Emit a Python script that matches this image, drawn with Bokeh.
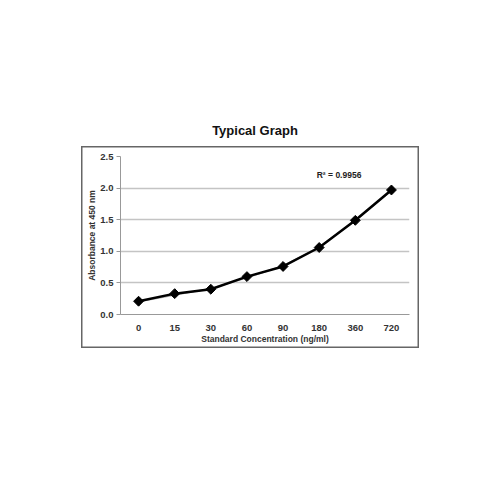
import math
from bokeh.plotting import figure
from bokeh.layouts import column, row
from bokeh.models import Label, FactorRange, Range1d, NumeralTickFormatter, FixedTicker, Div, Spacer
from bokeh.embed import file_html
from bokeh.resources import INLINE

categories = ["0", "15", "30", "60", "90", "180", "360", "720"]
absorbance = [0.21, 0.33, 0.40, 0.60, 0.76, 1.06, 1.49, 1.97]
trend = [0.20, 0.31, 0.41, 0.58, 0.77, 1.07, 1.48, 1.96]
y_ticks = [0.0, 0.5, 1.0, 1.5, 2.0, 2.5]

FONT = "Liberation Sans"

p = figure(width=338, height=202, output_backend="svg", toolbar_location=None,
           x_range=FactorRange(*categories, range_padding=0), y_range=Range1d(0, 2.5),
           min_border_left=39, min_border_right=10, min_border_top=10, min_border_bottom=34,
           styles={"box-shadow": "inset 0 0 0 1.5px #666666", "background-color": "white"})
p.outline_line_color = None
p.background_fill_color = "white"
p.border_fill_color = None

p.xgrid.grid_line_color = None
p.ygrid.grid_line_color = "#c4c4c4"
p.ygrid.grid_line_width = 1.5
p.yaxis.ticker = FixedTicker(ticks=y_ticks)
p.yaxis.formatter = NumeralTickFormatter(format="0.0")

for ax in (p.xaxis[0], p.yaxis[0]):
    ax.axis_line_color = "#999999"
    ax.major_tick_line_color = "#999999"
    ax.minor_tick_line_color = None
    ax.major_label_text_font = FONT
    ax.major_label_text_font_style = "bold"
    ax.major_label_text_font_size = "9.5px"
    ax.major_label_text_color = "#333333"
    ax.axis_label_text_font = FONT
    ax.axis_label_text_font_style = "bold"
    ax.axis_label_text_font_size = "8.5px"
    ax.axis_label_text_color = "#333333"

p.xaxis.major_tick_line_color = None
p.xaxis.major_label_standoff = 4
p.xaxis.axis_label = "Standard Concentration (ng/ml)"
p.xaxis.axis_label_standoff = 0
p.yaxis.major_tick_in = 0
p.yaxis.major_tick_out = 4
p.yaxis.major_label_standoff = 3
p.yaxis.axis_label = "Absorbance at 450 nm"
p.yaxis.axis_label_standoff = 0

p.line(categories, trend, line_color="#aaaaaa", line_width=1.5)
p.line(categories, absorbance, line_color="black", line_width=2.5)
p.scatter(categories, absorbance, marker="square", angle=math.pi / 4, size=7, color="black")

p.add_layout(Label(x=6.05, y=2.2, text="R² = 0.9956", text_font=FONT, text_font_style="bold",
                   text_font_size="8.5px", text_align="center", text_baseline="middle",
                   text_color="#222222"))

title = Div(text="Typical Graph", width=338, height=20,
            styles={"font-family": FONT, "font-weight": "bold", "font-size": "13px",
                    "color": "#111111", "text-align": "center", "line-height": "20px",
                    "width": "338px"})

layout = column(
    Spacer(height=116),
    row(Spacer(width=81), title),
    row(Spacer(width=81), p),
)

open("out.html", "w").write(file_html(layout, INLINE))
